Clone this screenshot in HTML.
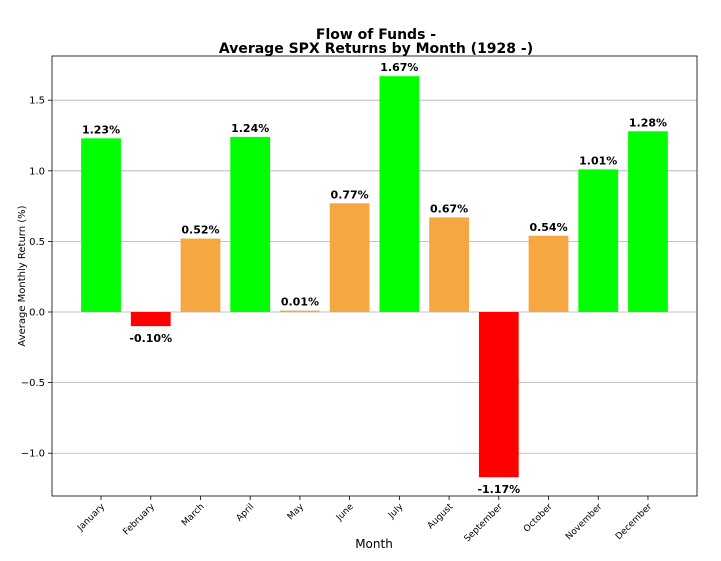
<!DOCTYPE html>
<html><head><meta charset="utf-8"><style>
body{margin:0;background:#fff}
svg text{font-family:"DejaVu Sans","Liberation Sans",sans-serif}
</style></head><body>
<svg id="chart" width="721" height="556" xmlns="http://www.w3.org/2000/svg">
<text x="376" y="39" text-anchor="middle" font-size="14" font-weight="bold">Flow of Funds -</text>
<text x="376" y="53" text-anchor="middle" font-size="14" font-weight="bold">Average SPX Returns by Month (1928 -)</text>
<g id="grid"></g><g id="bars"></g><g id="labels"></g><g id="axes"></g>
<text x="374" y="548" text-anchor="middle" font-size="12">Month</text>
<text transform="translate(25,276) rotate(-90)" text-anchor="middle" font-size="10">Average Monthly Return (%)</text>
</svg>
<script>
const months=["January","February","March","April","May","June","July","August","September","October","November","December"];
const values=[1.23,-0.10,0.52,1.24,0.01,0.77,1.67,0.67,-1.17,0.54,1.01,1.28];
const valueLabels=["1.23%","-0.10%","0.52%","1.24%","0.01%","0.77%","1.67%","0.67%","-1.17%","0.54%","1.01%","1.28%"];
const colorCats=["g","r","o","g","o","o","g","o","r","o","g","g"];
const yTicks=[-1.0,-0.5,0.0,0.5,1.0,1.5];
const yTickLabels=["\u22121.0","\u22120.5","0.0","0.5","1.0","1.5"];
const L=52,R=697,T=56,B=496;
const yMin=-1.303,yMax=1.813,xMin=-0.986,xMax=11.986;
const ys=v=>B-(v-yMin)/(yMax-yMin)*(B-T);
const xs=i=>L+(i-xMin)/(xMax-xMin)*(R-L);
const unit=(R-L)/(xMax-xMin);
const NS="http://www.w3.org/2000/svg";
const cmap={g:"#00ff00",r:"#ff0000",o:"#f5a742"};
function mk(tag,attrs,parent,text){const e=document.createElementNS(NS,tag);for(const k in attrs)e.setAttribute(k,attrs[k]);if(text!==undefined)e.textContent=text;parent.appendChild(e);return e;}
const grid=document.getElementById('grid'),bars=document.getElementById('bars'),labels=document.getElementById('labels'),axes=document.getElementById('axes');
yTicks.forEach((t,i)=>{
 const y=ys(t);
 const gl=mk('line',{x1:L,x2:R,y1:y,y2:y,stroke:"#b0b0b0","stroke-width":0.8},grid);
 
 
 const tk=mk('line',{x1:L-4,x2:L,y1:y,y2:y,stroke:"#000","stroke-width":0.8},axes);
 
 
 const tl=mk('text',{x:L-7,y:y+3.5,"text-anchor":"end","font-size":10},axes,yTickLabels[i]);
 
 
});
values.forEach((v,i)=>{
 const cx=xs(i),w=unit*0.8;
 const y0=ys(0),y1=ys(v);
 const r=mk('rect',{x:cx-w/2,y:Math.min(y0,y1),width:w,height:Math.max(Math.abs(y1-y0),0.5),fill:cmap[colorCats[i]]},bars);
 
 
 const ly=v>=0?y1-5:y1+16;
 const t=mk('text',{x:cx,y:ly,"text-anchor":"middle","font-size":11,"font-weight":"bold"},labels,valueLabels[i]);
 
 
 const tk=mk('line',{x1:cx,x2:cx,y1:B,y2:B+4,stroke:"#000","stroke-width":0.8},axes);
 
 
 const xl=mk('text',{transform:`translate(${cx+4},${B+11}) rotate(-45)`,"text-anchor":"end","font-size":9},axes,months[i]);
 
 
});
const fr=mk('rect',{x:L,y:T,width:R-L,height:B-T,fill:"none",stroke:"#000","stroke-width":0.8},axes);


</script>
</body></html>
